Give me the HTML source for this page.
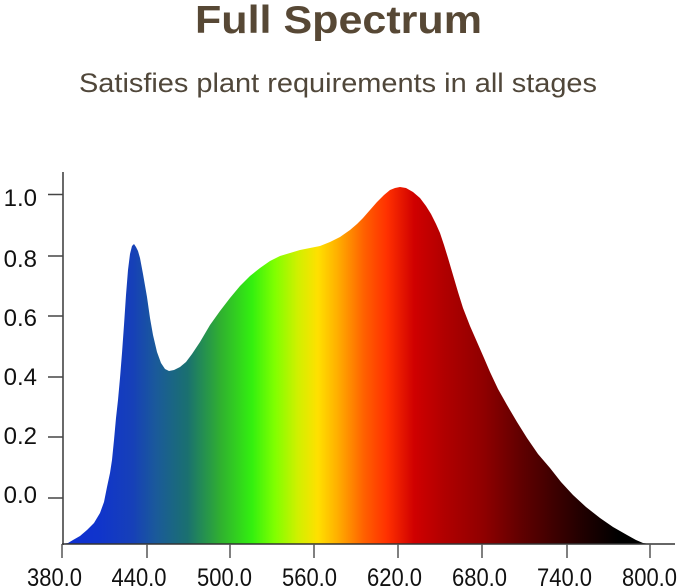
<!DOCTYPE html>
<html>
<head>
<meta charset="utf-8">
<style>
  html, body { margin:0; padding:0; background:#ffffff; }
  body { width:679px; height:588px; overflow:hidden; }
  svg { display:block; }
  text { font-family: "Liberation Sans", "DejaVu Sans", sans-serif; }
</style>
</head>
<body>
<svg width="679" height="588" viewBox="0 0 679 588" xmlns="http://www.w3.org/2000/svg">
  <defs>
    <linearGradient id="spec" gradientUnits="userSpaceOnUse" x1="62" y1="0" x2="650" y2="0">
      <stop offset="0" stop-color="#0f2fd2"/>
      <stop offset="0.061" stop-color="#1034cc"/>
      <stop offset="0.12" stop-color="#1640b8"/>
      <stop offset="0.16" stop-color="#1a5a9a"/>
      <stop offset="0.213" stop-color="#1a7070"/>
      <stop offset="0.27" stop-color="#30b030"/>
      <stop offset="0.323" stop-color="#33f00f"/>
      <stop offset="0.362" stop-color="#80ff00"/>
      <stop offset="0.401" stop-color="#d0f000"/>
      <stop offset="0.435" stop-color="#ffe000"/>
      <stop offset="0.468" stop-color="#ffb000"/>
      <stop offset="0.514" stop-color="#ff6000"/>
      <stop offset="0.553" stop-color="#ff3000"/>
      <stop offset="0.599" stop-color="#d00000"/>
      <stop offset="0.651" stop-color="#b00000"/>
      <stop offset="0.716" stop-color="#900000"/>
      <stop offset="0.781" stop-color="#600000"/>
      <stop offset="0.833" stop-color="#400000"/>
      <stop offset="0.886" stop-color="#200000"/>
      <stop offset="0.946" stop-color="#000000"/>
      <stop offset="1" stop-color="#000000"/>
    </linearGradient>
  </defs>

  <!-- Titles -->
  <text x="195" y="33" font-size="39" font-weight="bold" fill="#574835" textLength="287" lengthAdjust="spacingAndGlyphs">Full Spectrum</text>
  <text x="79" y="92" font-size="27" fill="#50473a" textLength="518" lengthAdjust="spacingAndGlyphs">Satisfies plant requirements in all stages</text>

  <!-- Spectrum fill -->
  <polygon fill="url(#spec)" points="
    62,544 68,543 73,540 80,536 87,530 94,523 100,513 104,502 107,487 110,473 112,460 114,440 116,418 118,400 120,378 122,353 124,325 126,295 128,270 130,254 132,246 134,244 136,247 138,251 140,258 143,274 147,297 150,318 153,335 157,352 161,363 165,369 169,371 174,370 180,367 186,362 192,354 200,342 210,325 220,311 230,298 240,286 250,276 260,268 270,261 280,256 290,253 300,250 310,248 320,246 330,242 340,237 350,230 357,224 363,218 370,210 377,202 384,195 390,190 395,188 400,187 406,188 413,192 420,198 426,206 431,214 436,224 440,233 444,245 448,258 453,275 458,292 463,308 470,326 477,342 484,358 490,372 498,389 507,405 517,422 527,438 538,454 550,468 561,482 573,495 586,507 600,518 613,527 627,535 636,540 643,543 650,544"/>

  <!-- Axes -->
  <line x1="63" y1="172" x2="63" y2="545" stroke="#444" stroke-width="1.6"/>
  <line x1="62" y1="544" x2="675" y2="544" stroke="#333" stroke-width="1.5"/>

  <!-- Y ticks -->
  <g stroke="#444" stroke-width="1.5">
    <line x1="48" y1="194.5" x2="63" y2="194.5"/>
    <line x1="48" y1="256" x2="63" y2="256"/>
    <line x1="48" y1="316" x2="63" y2="316"/>
    <line x1="48" y1="377" x2="63" y2="377"/>
    <line x1="48" y1="437" x2="63" y2="437"/>
    <line x1="48" y1="498" x2="63" y2="498"/>
  </g>

  <!-- X ticks -->
  <g stroke="#555" stroke-width="1.5">
    <line x1="62" y1="544" x2="62" y2="558"/>
    <line x1="147" y1="544" x2="147" y2="558"/>
    <line x1="230" y1="544" x2="230" y2="558"/>
    <line x1="314" y1="544" x2="314" y2="558"/>
    <line x1="398" y1="544" x2="398" y2="558"/>
    <line x1="482" y1="544" x2="482" y2="558"/>
    <line x1="567" y1="544" x2="567" y2="558"/>
    <line x1="650" y1="544" x2="650" y2="558"/>
  </g>

  <!-- Y labels -->
  <g font-size="24" fill="#111" text-anchor="end">
    <text x="37" y="206">1.0</text>
    <text x="37" y="267">0.8</text>
    <text x="37" y="326">0.6</text>
    <text x="37" y="385">0.4</text>
    <text x="37" y="444">0.2</text>
    <text x="37" y="503">0.0</text>
  </g>

  <!-- X labels -->
  <g font-size="25" fill="#111">
    <text x="27" y="586" textLength="55" lengthAdjust="spacingAndGlyphs">380.0</text>
    <text x="111.5" y="586" textLength="55" lengthAdjust="spacingAndGlyphs">440.0</text>
    <text x="197" y="586" textLength="55" lengthAdjust="spacingAndGlyphs">500.0</text>
    <text x="282" y="586" textLength="55" lengthAdjust="spacingAndGlyphs">560.0</text>
    <text x="367" y="586" textLength="55" lengthAdjust="spacingAndGlyphs">620.0</text>
    <text x="452" y="586" textLength="55" lengthAdjust="spacingAndGlyphs">680.0</text>
    <text x="537" y="586" textLength="55" lengthAdjust="spacingAndGlyphs">740.0</text>
    <text x="622" y="586" textLength="55" lengthAdjust="spacingAndGlyphs">800.0</text>
  </g>
</svg>
</body>
</html>
